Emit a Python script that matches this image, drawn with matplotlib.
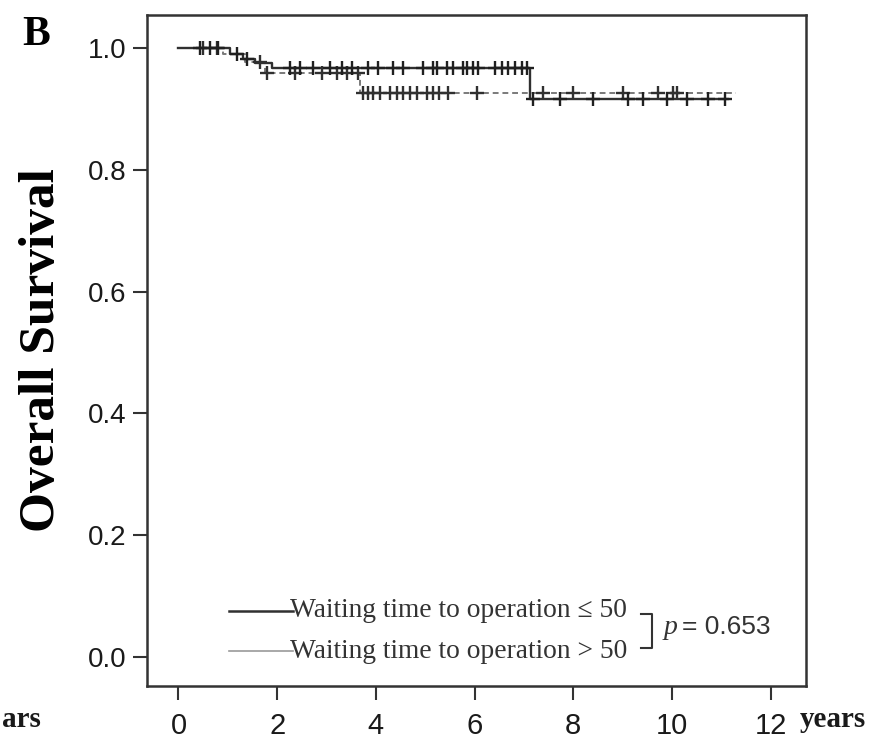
import numpy as np
import matplotlib
matplotlib.use("Agg")
import matplotlib.pyplot as plt

# Group 1: waiting time <= 50 (step times and survival)
g1_times = [0.0, 1.05, 1.30, 1.55, 1.90, 7.12, 11.13]
g1_surv = [1.0, 0.990, 0.983, 0.975, 0.967, 0.916, 0.916]
g1_cens = [0.44, 0.64, 0.80, 1.19, 1.39, 2.26, 2.46, 2.73, 3.07, 3.31, 3.52,
           3.84, 4.04, 4.35, 4.55, 4.95, 5.16, 5.24, 5.44, 5.56, 5.76, 5.84,
           5.97, 6.07, 6.41, 6.56, 6.68, 6.82, 6.96, 7.06, 7.18, 7.73, 8.40,
           9.11, 9.41, 9.90, 10.30, 10.73, 11.07]

# Group 2: waiting time > 50
g2_times = [0.0, 0.90, 1.35, 1.75, 3.68, 11.30]
g2_surv = [1.0, 0.990, 0.978, 0.960, 0.927, 0.927]
g2_cens = [0.50, 0.78, 1.65, 1.80, 2.36, 2.91, 3.21, 3.41, 3.64, 3.74, 3.84,
           3.94, 4.08, 4.29, 4.43, 4.55, 4.69, 4.83, 5.04, 5.16, 5.27, 5.47,
           6.05, 7.39, 8.00, 9.00, 9.72, 10.02, 10.10]

xticks = [0, 2, 4, 6, 8, 10, 12]
yticks = [0.0, 0.2, 0.4, 0.6, 0.8, 1.0]
labels = ["Waiting time to operation \u2264 50", "Waiting time to operation > 50"]
p_text = "= 0.653"


def surv_at(times, surv, t):
    idx = np.searchsorted(times, t, side="right") - 1
    return np.array(surv)[idx]


fig = plt.figure(figsize=(8.88, 7.4), dpi=100)
ax = fig.add_axes([147 / 888, 54 / 740, 659 / 888, 671 / 740])

# curves
ax.step(g2_times, g2_surv, where="post", color="#7a7a7a", lw=1.4, ls=(0, (3, 2)))
ax.step(g1_times, g1_surv, where="post", color="#303030", lw=1.7)

# censor marks
ax.plot(g2_cens, surv_at(g2_times, g2_surv, g2_cens), ls="none", marker="+",
        ms=10, mew=1.7, color="#303030")
ax.plot(g1_cens, surv_at(g1_times, g1_surv, g1_cens), ls="none", marker="+",
        ms=10, mew=1.7, color="#202020")

ax.set_xlim(-0.638, 12.715)
ax.set_ylim(-0.048, 1.0547)
ax.set_xticks(xticks)
ax.set_yticks(yticks)
ax.set_yticklabels(["%.1f" % v for v in yticks])
ax.tick_params(direction="out", length=10, width=1.5, color="#333333",
               labelcolor="#1a1a1a")
ax.tick_params(axis="x", pad=9, labelsize=21)
ax.tick_params(axis="y", pad=5, labelsize=20)
for lab in ax.get_xticklabels() + ax.get_yticklabels():
    lab.set_family(["Liberation Sans", "DejaVu Sans"])
for s in ax.spines.values():
    s.set_color("#333333")
    s.set_linewidth(1.8)

ax.set_ylabel("Overall Survival", family="Liberation Serif", fontweight="bold",
              fontsize=37, labelpad=16)

# hand made legend
ax.plot([0.1244, 0.2216], [0.1118, 0.1118], transform=ax.transAxes,
        color="#303030", lw=1.8)
ax.plot([0.1244, 0.2216], [0.052, 0.052], transform=ax.transAxes,
        color="#9a9a9a", lw=1.2)
ax.text(0.217, 0.1118, labels[0], transform=ax.transAxes, va="center",
        ha="left", family=["Liberation Serif", "DejaVu Serif"], fontsize=19.8,
        color="#333333")
ax.text(0.217, 0.052, labels[1], transform=ax.transAxes, va="center",
        ha="left", family="Liberation Serif", fontsize=19.8, color="#333333")
ax.plot([0.7496, 0.766, 0.766, 0.7496], [0.107, 0.107, 0.0566, 0.0566],
        transform=ax.transAxes, color="#333333", lw=1.5)
ax.text(0.7845, 0.0879, "p", transform=ax.transAxes, va="center", ha="left",
        family="Liberation Serif", style="italic", fontsize=20, color="#333333")
ax.text(0.812, 0.0879, p_text, transform=ax.transAxes, va="center", ha="left",
        family="Liberation Sans", fontsize=19, color="#333333")

# panel letter and axis unit texts
fig.text(22 / 888, 1 - 45 / 740, "B", family="Liberation Serif",
         fontweight="bold", fontsize=30, va="baseline")
fig.text(800 / 888, 1 - 727 / 740, "years", family="Liberation Serif",
         fontweight="bold", fontsize=21, va="baseline", color="#1a1a1a")
fig.text(0.002, 1 - 727 / 740, "ars", family="Liberation Serif",
         fontweight="bold", fontsize=21, va="baseline", color="#1a1a1a")

fig.savefig("out.png", dpi=100)
